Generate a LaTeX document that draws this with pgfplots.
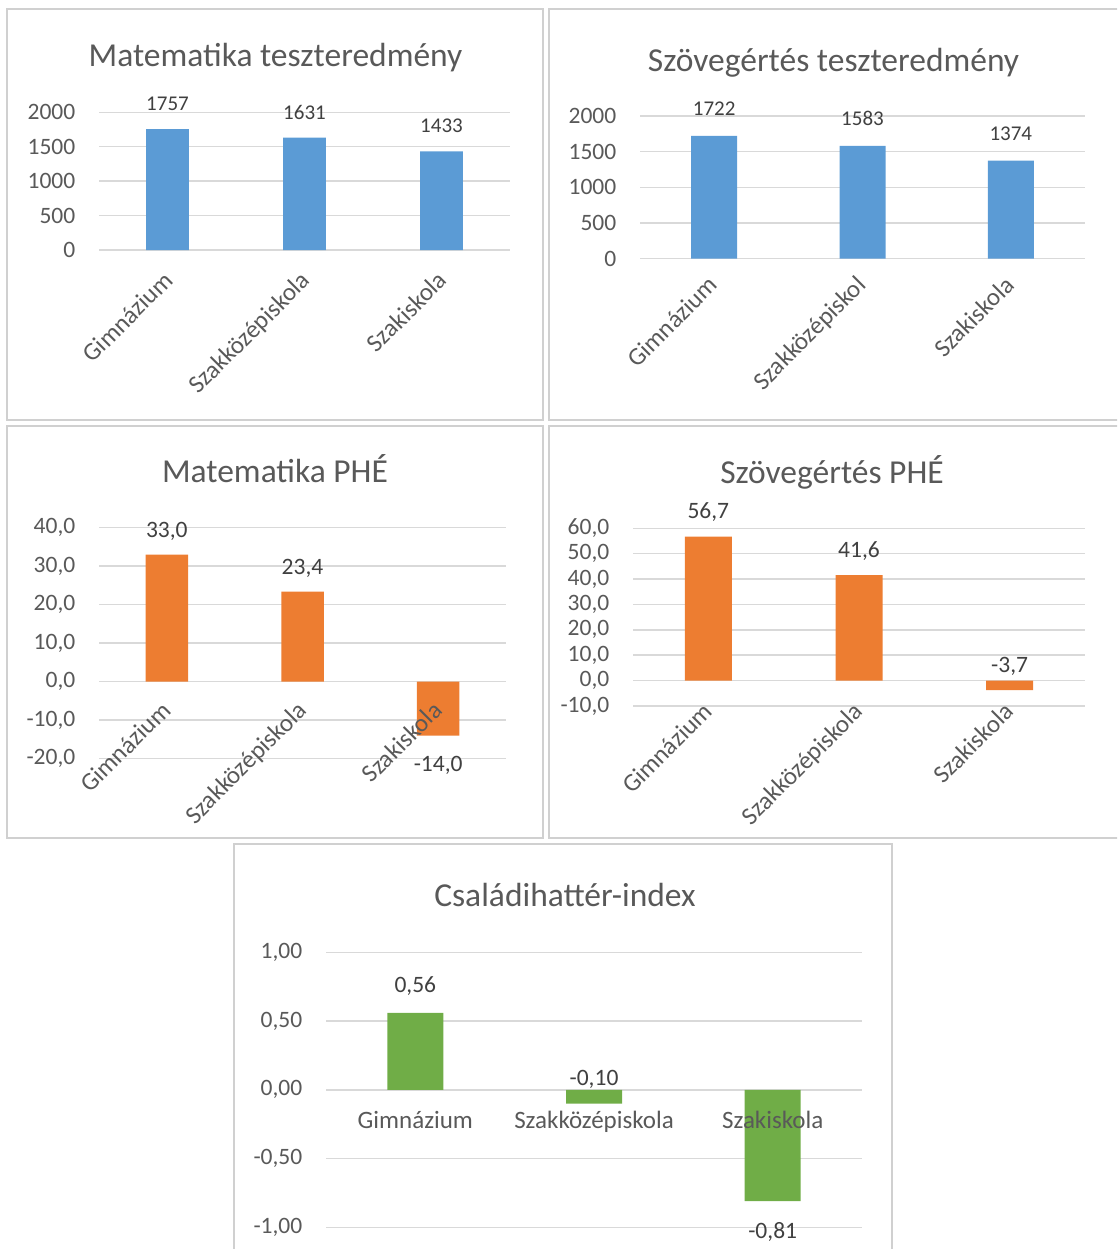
\documentclass[border=0pt]{standalone}
\usepackage{pgfplots}
\pgfplotsset{compat=1.18}
\usepackage{fontspec}
\setmainfont{Carlito}
\definecolor{cblue}{HTML}{5B9BD5}
\definecolor{corange}{HTML}{ED7D31}
\definecolor{cgreen}{HTML}{70AD47}
\definecolor{gridc}{HTML}{D9D9D9}
\definecolor{framec}{HTML}{D0D0D0}
\definecolor{txt}{HTML}{595959}
\definecolor{lab}{HTML}{404040}
\pgfplotsset{
  panel/.style={scale only axis, anchor=south west, clip=false,
    xmin=-0.5, xmax=2.5, xtick={0,1,2}, xticklabels={},
    axis line style={draw=none}, major tick length=0pt,
    ymajorgrids, grid style={draw=gridc, line width=1.5pt},
    yticklabel style={font=\fontsize{23.5}{26}\selectfont, text=txt, anchor=east, inner sep=0pt, xshift=-23.5pt}},
  bars/.style 2 args={ybar, bar shift=0pt, bar width=#2, fill=#1, draw=none},
  lbl/.style 2 args={draw=none, mark=none, nodes near coords, point meta=explicit symbolic,
    every node near coord/.append style={anchor=base, inner sep=0pt, yshift=#1, text=lab, font=\fontsize{#2}{#2}\selectfont}},
}
\tikzset{
  cat/.style 2 args={font=\fontsize{25}{28}\selectfont, text=txt, inner sep=0pt, xshift=#1, yshift=#2, rotate=45, anchor=base east},
  cath/.style={font=\fontsize{25}{28}\selectfont, text=txt, inner sep=0pt, yshift=#1, anchor=base},
}
\begin{document}
\begin{tikzpicture}
\useasboundingbox (0pt,0pt) rectangle (1117pt,-1249pt);
\begin{scope}
\clip (0pt,0pt) rectangle (1117pt,-1249pt);
\draw[framec, line width=2pt] (7pt,-9.3pt) rectangle (542.7pt,-420pt);
\draw[framec, line width=2pt] (549.3pt,-9pt) rectangle (1125pt,-420pt);
\draw[framec, line width=2pt] (7pt,-426pt) rectangle (542.7pt,-837.7pt);
\draw[framec, line width=2pt] (549.3pt,-426pt) rectangle (1125pt,-837.5pt);
\draw[framec, line width=2pt] (234.3pt,-844pt) rectangle (892.3pt,-1260pt);
\end{scope}
\begin{scope}[every node/.style={font=\fontsize{33.5}{38}\selectfont, text=txt, anchor=base}]
\node at (275.5pt,-66.7pt) {Matematika teszteredmény};
\node at (833.5pt,-71.7pt) {Szövegértés teszteredmény};
\node at (275pt,-482.7pt) {Matematika PHÉ};
\node at (832pt,-483pt) {Szövegértés PHÉ};
\node at (565pt,-906.7pt) {Családihattér-index};
\end{scope}
% Panel 1
\begin{axis}[panel, at={(99pt,-250pt)}, width=411pt, height=137.7pt,
  ymin=0, ymax=2000, ytick={0,500,1000,1500,2000}, yticklabels={0,500,1000,1500,2000}]
\addplot[bars={cblue}{42.8pt}] table[x=x,y=y] {
x y
0 1757
1 1631
2 1433
};
\addplot[lbl={18.5pt}{21}] table[x=x,y=y,meta=l] {
x y l
0 1757 1757
1 1631 1631
2 1433 1433
};
\node[cat={7pt}{-32pt}] at (axis cs:0,0) {Gimnázium};
\node[cat={7pt}{-32pt}] at (axis cs:1,0) {Szakközépiskola};
\node[cat={7pt}{-32pt}] at (axis cs:2,0) {Szakiskola};
\end{axis}
% Panel 2
\begin{axis}[panel, at={(640pt,-258.7pt)}, width=445pt, height=142.7pt,
  ymin=0, ymax=2000, ytick={0,500,1000,1500,2000}, yticklabels={0,500,1000,1500,2000}]
\addplot[bars={cblue}{46pt}] table[x=x,y=y] {
x y
0 1722
1 1583
2 1374
};
\addplot[lbl={20pt}{21}] table[x=x,y=y,meta=l] {
x y l
0 1722 1722
1 1583 1583
2 1374 1374
};
\node[cat={5pt}{-28pt}] at (axis cs:0,0) {Gimnázium};
\node[cat={5pt}{-28pt}] at (axis cs:1,0) {Szakközépiskol};
\node[cat={5pt}{-28pt}] at (axis cs:2,0) {Szakiskola};
\end{axis}
% Panel 3
\begin{axis}[panel, at={(99pt,-758.7pt)}, width=407pt, height=231pt,
  ymin=-20, ymax=40, ytick={-20,-10,0,10,20,30,40},
  yticklabels={{-20,0},{-10,0},{0,0},{10,0},{20,0},{30,0},{40,0}}]
\addplot[bars={corange}{42.5pt}] table[x=x,y=y] {
x y
0 33.0
1 23.4
2 -14.0
};
\addplot[lbl={17.5pt}{23.5}] table[x=x,y=y,meta=l] {
x y l
0 33.0 33,0
1 23.4 23,4
};
\addplot[lbl={-36pt}{23.5}] table[x=x,y=y,meta=l] {
x y l
2 -14.0 -14,0
};
\node[cat={5.5pt}{-30.5pt}] at (axis cs:0,0) {Gimnázium};
\node[cat={5.5pt}{-30.5pt}] at (axis cs:1,0) {Szakközépiskola};
\node[cat={5.5pt}{-30.5pt}] at (axis cs:2,0) {Szakiskola};
\end{axis}
% Panel 4
\begin{axis}[panel, at={(633pt,-706pt)}, width=452pt, height=177.7pt,
  ymin=-10, ymax=60, ytick={-10,0,10,20,30,40,50,60},
  yticklabels={{-10,0},{0,0},{10,0},{20,0},{30,0},{40,0},{50,0},{60,0}}]
\addplot[bars={corange}{47pt}] table[x=x,y=y] {
x y
0 56.7
1 41.6
2 -3.7
};
\addplot[lbl={18pt}{23.5}] table[x=x,y=y,meta=l] {
x y l
0 56.7 56,7
1 41.6 41,6
2 -3.7 -3,7
};
\node[cat={5.5pt}{-32.5pt}] at (axis cs:0,0) {Gimnázium};
\node[cat={5.5pt}{-32.5pt}] at (axis cs:1,0) {Szakközépiskola};
\node[cat={5.5pt}{-32.5pt}] at (axis cs:2,0) {Szakiskola};
\end{axis}
% Panel 5
\begin{axis}[panel, at={(326pt,-1227.3pt)}, width=536pt, height=275pt,
  ymin=-1, ymax=1, ytick={-1,-0.5,0,0.5,1},
  yticklabels={{-1,00},{-0,50},{0,00},{0,50},{1,00}}]
\addplot[bars={cgreen}{56pt}] table[x=x,y=y] {
x y
0 0.56
1 -0.10
2 -0.81
};
\addplot[lbl={20pt}{23.5}] table[x=x,y=y,meta=l] {
x y l
0 0.56 0,56
};
\addplot[lbl={18.5pt}{23.5}] table[x=x,y=y,meta=l] {
x y l
1 -0.10 -0,10
};
\addplot[lbl={-37pt}{23.5}] table[x=x,y=y,meta=l] {
x y l
2 -0.81 -0,81
};
\node[cath={-38.3pt}] at (axis cs:0,0) {Gimnázium};
\node[cath={-38.3pt}] at (axis cs:1,0) {Szakközépiskola};
\node[cath={-38.3pt}] at (axis cs:2,0) {Szakiskola};
\end{axis}
\end{tikzpicture}
\end{document}
